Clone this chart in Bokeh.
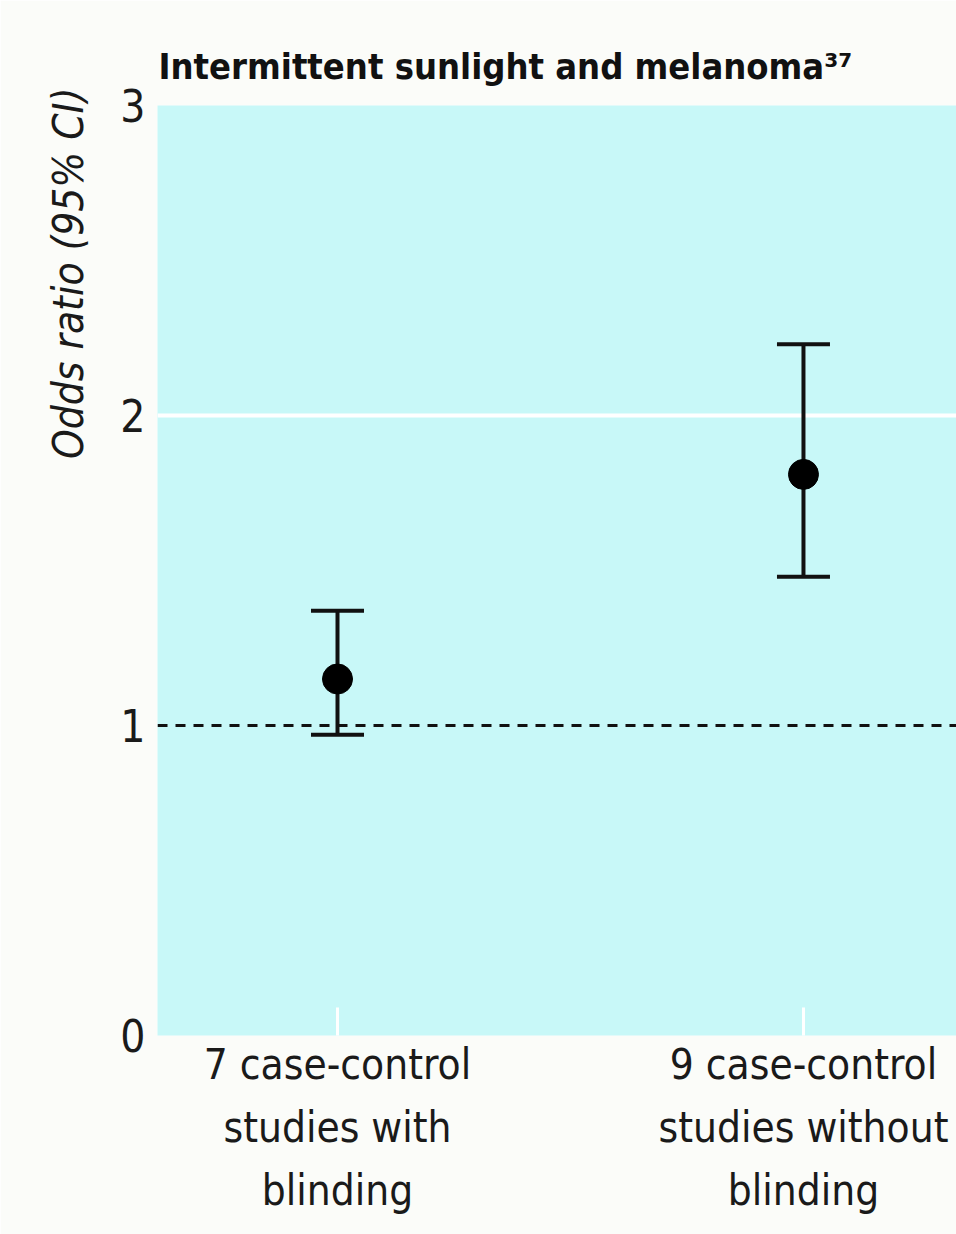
from bokeh.plotting import figure
from bokeh.models import (Range1d, FixedTicker, Span, Whisker, TeeHead, ColumnDataSource, Title)
from bokeh.embed import file_html
from bokeh.resources import INLINE

# ---- data ----
categories = ["7 case-control\nstudies with\nblinding", "9 case-control\nstudies without\nblinding"]
odds_ratio = [1.15, 1.81]
ci_lower = [0.97, 1.48]
ci_upper = [1.37, 2.23]
y_ticks = [0, 1, 2, 3]
title_text = "Intermittent sunlight and melanoma\u00b3\u2077"
y_label = "Odds ratio (95% CI)"

FONT = "Noto Sans Condensed, DejaVu Sans Condensed, Roboto"
BG = "#fbfcf9"
PLOT_BG = "#c8f8f8"
INK = "#1a1a1a"

xpos = list(range(len(categories)))
src = ColumnDataSource(dict(x=xpos, y=odds_ratio, lo=ci_lower, hi=ci_upper))

p = figure(width=956, height=1234, output_backend="svg", toolbar_location=None,
           x_range=Range1d(-0.3863, 1.3284), y_range=Range1d(0, 3),
           min_border_left=157, min_border_right=0, min_border_top=105, min_border_bottom=199)
p.background_fill_color = PLOT_BG
p.border_fill_color = BG
p.outline_line_color = None

# axes
p.xaxis.ticker = FixedTicker(ticks=xpos)
p.xaxis.major_label_overrides = {i: c for i, c in enumerate(categories)}
p.xaxis.axis_line_color = None
p.xaxis.major_tick_in = 28
p.xaxis.major_tick_out = 0
p.xaxis.major_tick_line_color = "white"
p.xaxis.major_tick_line_width = 3
p.xaxis.minor_tick_line_color = None
p.xaxis.major_label_text_font = FONT
p.xaxis.major_label_text_font_size = "42px"
p.xaxis.major_label_text_line_height = 1.29
p.xaxis.major_label_text_color = INK
p.xaxis.major_label_standoff = 4

p.yaxis.ticker = FixedTicker(ticks=y_ticks)
p.yaxis.axis_line_color = None
p.yaxis.major_tick_line_color = None
p.yaxis.minor_tick_line_color = None
p.yaxis.major_label_text_font = FONT
p.yaxis.major_label_text_font_size = "44px"
p.yaxis.major_label_text_color = INK
p.yaxis.major_label_standoff = 6

p.xgrid.grid_line_color = None
p.ygrid.ticker = FixedTicker(ticks=[2])
p.ygrid.grid_line_color = "white"
p.ygrid.grid_line_width = 4
p.ygrid.grid_line_alpha = 1

# reference line at OR = 1
p.add_layout(Span(location=1, dimension="width", line_color="#111111",
                  line_width=3, line_dash="10 8"))

# error bars and points
w = Whisker(source=src, base="x", lower="lo", upper="hi", line_color="#111111", line_width=4,
            upper_head=TeeHead(size=53, line_color="#111111", line_width=4),
            lower_head=TeeHead(size=53, line_color="#111111", line_width=4))
p.add_layout(w)
p.scatter("x", "y", source=src, size=30, color="#000000")

# title and y label
p.add_layout(Title(text=title_text, align="left", offset=1, standoff=38,
                   text_font=FONT, text_font_style="bold", text_font_size="36px",
                   text_color="#111111"), "above")
p.add_layout(Title(text=y_label, align="right", offset=-18, standoff=50,
                   text_font=FONT, text_font_style="italic", text_font_size="42px",
                   text_color=INK), "left")

open("out.html", "w").write(file_html(p, INLINE))
